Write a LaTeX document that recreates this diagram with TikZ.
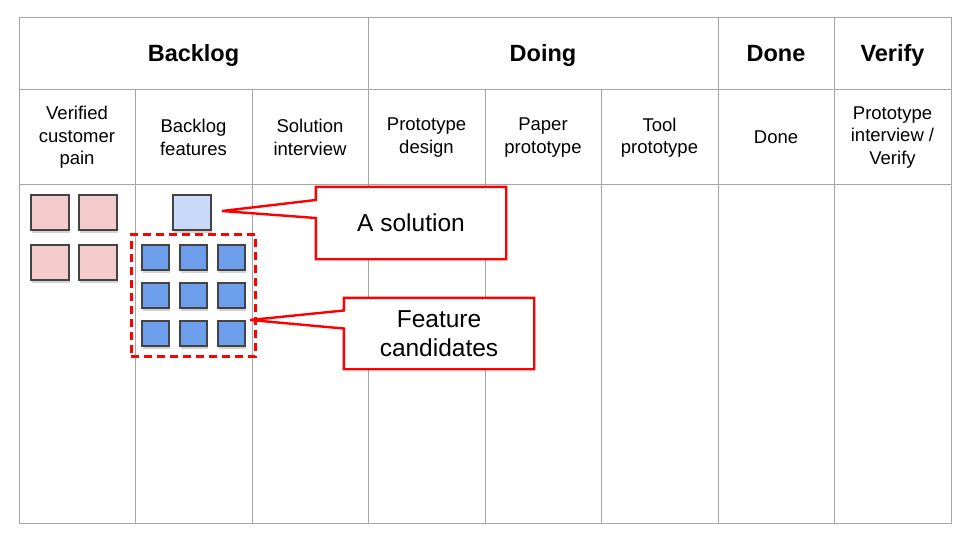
\documentclass[tikz,border=0pt]{standalone}
\usepackage{fontspec}
\setmainfont{Liberation Sans}
\usetikzlibrary{fit,shadows,backgrounds}

\definecolor{gridgray}{HTML}{A6A6A6}
\definecolor{cardline}{HTML}{434343}
\definecolor{painfill}{HTML}{F4CCCC}
\definecolor{solfill}{HTML}{C9DAF8}
\definecolor{featfill}{HTML}{6D9EEB}
\definecolor{calloutred}{HTML}{FF0000}

\begin{document}
\begin{tikzpicture}[x=1pt, y=-1pt,
		gridline/.style={draw=gridgray, line width=0.9pt},
		phase/.style={anchor=base, font=\fontsize{23.5}{27}\selectfont\bfseries},
		stage/.style={align=center, font=\fontsize{18.5}{22.5}\selectfont},
		card/.style={
			rectangle, draw=cardline, line width=1.1pt, inner sep=0pt,
			drop shadow={shadow xshift=0.5pt, shadow yshift=-2.5pt, opacity=0.35}
		},
		paincard/.style={card, fill=painfill, minimum width=38pt, minimum height=35pt},
		solcard/.style={card, fill=solfill, minimum width=38pt, minimum height=35pt},
		featcard/.style={card, fill=featfill, minimum width=27pt, minimum height=25pt},
		callout/.style={draw=calloutred, fill=white, line width=2.4pt, line join=miter},
		callouttext/.style={
			align=center, font=\fontsize{24.5}{29}\selectfont,
			minimum width=190pt, minimum height=71pt
		}
	]
		\useasboundingbox (0,0) rectangle (960,540);

		% board
		\begin{scope}[on background layer]
			\fill[white] (0,0) rectangle (960,540);
			\draw[gridline] (19,17) rectangle (951,523);
			\draw[gridline] (19,89) -- (951,89);
			\draw[gridline] (19,184) -- (951,184);
			\draw[gridline] (368,17) -- (368,523);
			\draw[gridline] (718,17) -- (718,523);
			\draw[gridline] (834,17) -- (834,523);
			\draw[gridline] (135,89) -- (135,523);
			\draw[gridline] (252,89) -- (252,523);
			\draw[gridline] (485,89) -- (485,523);
			\draw[gridline] (601,89) -- (601,523);
		\end{scope}

		\node[phase] (backlog) at (193.5,61.7) {Backlog};
		\node[phase] (doing) at (543,61.7) {Doing};
		\node[phase] (done) at (776,61.7) {Done};
		\node[phase] (verify) at (892.5,61.7) {Verify};

		\node[stage] (pain) at (77,137.5) {Verified\\customer\\pain};
		\node[stage] (features) at (193.5,137.5) {Backlog\\features};
		\node[stage] (solint) at (310,137.5) {Solution\\interview};
		\node[stage] (protodesign) at (426.5,137.5) {Prototype\\design};
		\node[stage] (paperproto) at (543,137.5) {Paper\\prototype};
		\node[stage] (toolproto) at (659.5,137.5) {Tool\\prototype};
		\node[stage] (donestage) at (776,137.5) {Done};
		\node[stage] (verifystage) at (892.5,137.5) {Prototype\\interview /\\Verify};

		% cards
		\node[paincard] (p1) at (50,212.5) {};
		\node[paincard] (p2) at (98,212.5) {};
		\node[paincard] (p3) at (50,262.5) {};
		\node[paincard] (p4) at (98,262.5) {};

		\node[solcard] (sol) at (192,212.5) {};

		\node[featcard] (f11) at (155.5,257.5) {};
		\node[featcard] (f12) at (193.5,257.5) {};
		\node[featcard] (f13) at (231.5,257.5) {};
		\node[featcard] (f21) at (155.5,295.5) {};
		\node[featcard] (f22) at (193.5,295.5) {};
		\node[featcard] (f23) at (231.5,295.5) {};
		\node[featcard] (f31) at (155.5,333.5) {};
		\node[featcard] (f32) at (193.5,333.5) {};
		\node[featcard] (f33) at (231.5,333.5) {};

		\node[
			draw=calloutred, line width=2.4pt, dash pattern=on 8pt off 5pt,
			inner sep=10pt, fit=(f11) (f33)
		] (featgroup) {};

		% callouts
		\coordinate (soltip) at (222,211);
		\coordinate (feattip) at (250,320);

		\node[callouttext, minimum height=72pt] (solnote) at (411,223) {A solution};
		\node[callouttext] (featnote) at (439,333.5) {Feature\\candidates};

		\begin{scope}[on background layer]
			\draw[callout] (solnote.north west) -- (solnote.north east)
				-- (solnote.south east) -- (solnote.south west)
				-- ([yshift=5pt]solnote.west) -- (soltip)
				-- ([yshift=23pt]solnote.west) -- cycle;
			\draw[callout] (featnote.north west) -- (featnote.north east)
				-- (featnote.south east) -- (featnote.south west)
				-- ([yshift=5pt]featnote.west) -- (feattip)
				-- ([yshift=23pt]featnote.west) -- cycle;
		\end{scope}
	\end{tikzpicture}
\end{document}
